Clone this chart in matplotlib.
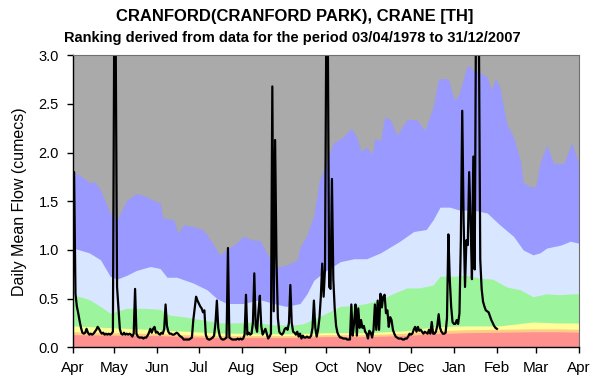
import numpy as np
import matplotlib
matplotlib.use('Agg')
import matplotlib.pyplot as plt

plt.rcParams['font.family'] = ['Liberation Sans', 'DejaVu Sans']

# month ticks (day of year counted from 1 April)
month_days = [0, 30, 61, 91, 122, 153, 183, 214, 244, 275, 306, 334, 365]
month_names = ['Apr', 'May', 'Jun', 'Jul', 'Aug', 'Sep', 'Oct', 'Nov', 'Dec',
               'Jan', 'Feb', 'Mar', 'Apr']

# ranking bands: upper edge of each band through the year
blue_days = [0, 5, 12, 16, 20, 27, 32, 39, 46, 53, 61, 63, 65, 73, 76, 80, 87, 94,
             101, 106, 111, 118, 123, 130, 135, 140, 145, 150, 157, 162, 164, 169,
             174, 178, 182, 188, 195, 201, 205, 208, 212, 216, 218, 222, 225, 229,
             234, 241, 248, 254, 260, 264, 271, 275, 279, 283, 285, 289, 294, 299,
             302, 305, 308, 313, 318, 323, 325, 330, 334, 337, 342, 347, 354, 360, 365]
blue_top = [1.80, 1.77, 1.69, 1.70, 1.62, 1.38, 1.31, 1.51, 1.58, 1.55, 1.49, 1.49,
            1.33, 1.31, 1.17, 1.26, 1.24, 1.21, 1.07, 0.95, 1.00, 1.07, 1.14, 1.10,
            1.10, 0.97, 0.83, 0.83, 0.86, 0.90, 1.03, 1.15, 1.36, 1.72, 1.86, 2.10,
            2.16, 2.25, 2.16, 2.01, 2.06, 1.98, 2.15, 2.12, 2.37, 2.34, 2.18, 2.34,
            2.34, 2.23, 2.47, 2.76, 2.76, 2.54, 2.61, 2.82, 2.90, 2.85, 2.82, 2.78,
            2.64, 2.76, 2.68, 2.30, 2.16, 1.92, 1.69, 1.65, 1.65, 1.89, 2.08, 1.89,
            1.89, 2.10, 1.89]

lblue_days = [0, 5, 12, 20, 27, 32, 39, 46, 56, 63, 68, 75, 87, 97, 104, 111, 123,
              135, 145, 154, 164, 169, 174, 183, 193, 203, 212, 222, 229, 236, 246,
              255, 260, 265, 272, 279, 289, 299, 308, 318, 325, 332, 337, 342, 352,
              359, 365]
lblue_top = [1.02, 1.00, 0.97, 0.90, 0.73, 0.70, 0.74, 0.79, 0.83, 0.81, 0.72, 0.72,
             0.66, 0.59, 0.50, 0.45, 0.45, 0.49, 0.45, 0.42, 0.45, 0.55, 0.69, 0.79,
             0.88, 0.91, 0.91, 0.97, 1.03, 1.09, 1.19, 1.21, 1.31, 1.44, 1.44, 1.41,
             1.41, 1.38, 1.26, 1.14, 1.00, 0.95, 0.97, 1.02, 1.05, 1.09, 1.07]

green_days = [0, 5, 12, 20, 27, 39, 53, 63, 70, 82, 94, 106, 118, 130, 145, 159, 166,
              174, 183, 193, 203, 212, 222, 231, 241, 250, 260, 265, 275, 284, 294,
              303, 313, 323, 332, 342, 351, 361, 365]
green_top = [0.53, 0.52, 0.49, 0.42, 0.35, 0.40, 0.40, 0.39, 0.33, 0.31, 0.28, 0.25,
             0.25, 0.26, 0.23, 0.23, 0.24, 0.29, 0.35, 0.42, 0.43, 0.45, 0.49, 0.55,
             0.61, 0.61, 0.64, 0.73, 0.73, 0.74, 0.71, 0.70, 0.62, 0.59, 0.52, 0.55,
             0.54, 0.55, 0.55]

low_days = [0, 30, 63, 100, 135, 160, 183, 212, 240, 260, 283, 308, 332, 350, 365]
yellow_top = [0.22, 0.20, 0.18, 0.15, 0.14, 0.14, 0.15, 0.15, 0.17, 0.21, 0.22,
              0.22, 0.26, 0.25, 0.25]
orange_top = [0.16, 0.15, 0.14, 0.12, 0.12, 0.12, 0.13, 0.13, 0.145, 0.17, 0.18,
              0.185, 0.19, 0.19, 0.185]
red_top = [0.13, 0.125, 0.12, 0.10, 0.10, 0.10, 0.11, 0.11, 0.12, 0.14, 0.15,
           0.155, 0.16, 0.16, 0.155]

# daily mean flow from 1 April to 1 February
flow = [
    # Apr
    0.52, 1.80, 0.55, 0.42, 0.35, 0.27, 0.20, 0.15, 0.14, 0.15, 0.19, 0.15, 0.13, 0.14, 0.13,
    0.14, 0.16, 0.18, 0.21, 0.19, 0.16, 0.14, 0.15, 0.13, 0.14, 0.13, 0.14, 0.13, 0.14, 0.16,
    # May
    3.40, 3.20, 0.62, 0.41, 0.19, 0.14, 0.13, 0.15, 0.13, 0.14, 0.13, 0.14, 0.13, 0.11, 0.14,
    0.60, 0.14, 0.11, 0.10, 0.10, 0.10, 0.09, 0.10, 0.10, 0.12, 0.15, 0.19, 0.15, 0.19, 0.21, 0.15,
    # Jun
    0.16, 0.14, 0.13, 0.15, 0.14, 0.19, 0.44, 0.22, 0.16, 0.14, 0.14, 0.13, 0.13, 0.14, 0.15,
    0.14, 0.12, 0.11, 0.10, 0.08, 0.08, 0.08, 0.08, 0.08, 0.09, 0.10, 0.28, 0.40, 0.52, 0.48,
    # Jul
    0.45, 0.42, 0.40, 0.36, 0.38, 0.13, 0.09, 0.08, 0.08, 0.09, 0.10, 0.12, 0.25, 0.48, 0.20,
    0.12, 0.09, 0.08, 0.08, 0.09, 0.10, 1.02, 0.10, 0.09, 0.08, 0.08, 0.08, 0.08, 0.09, 0.08, 0.09,
    # Aug
    0.08, 0.09, 0.13, 0.54, 0.13, 0.15, 0.13, 0.14, 0.25, 0.76, 0.22, 0.16, 0.37, 0.53, 0.22,
    0.13, 0.16, 0.19, 0.14, 0.09, 0.11, 0.14, 2.68, 0.37, 2.13, 0.90, 0.30, 0.16, 0.14, 0.13, 0.15,
    # Sep
    0.19, 0.20, 0.18, 0.25, 0.64, 0.25, 0.16, 0.15, 0.13, 0.16, 0.11, 0.14, 0.09, 0.12, 0.10,
    0.10, 0.11, 0.10, 0.10, 0.12, 0.20, 0.48, 0.20, 0.11, 0.18, 0.30, 0.52, 0.86, 0.52, 0.80,
    # Oct
    3.50, 3.30, 0.62, 0.60, 1.73, 0.70, 0.40, 0.22, 0.15, 0.12, 0.10, 0.10, 0.09, 0.09, 0.09,
    0.08, 0.08, 0.08, 0.44, 0.12, 0.25, 0.44, 0.12, 0.40, 0.20, 0.28, 0.20, 0.22, 0.16, 0.14, 0.09,
    # Nov
    0.17, 0.15, 0.10, 0.18, 0.44, 0.18, 0.48, 0.18, 0.55, 0.41, 0.52, 0.54, 0.35, 0.38, 0.21,
    0.31, 0.28, 0.18, 0.14, 0.11, 0.10, 0.09, 0.09, 0.09, 0.08, 0.08, 0.09, 0.09, 0.11, 0.14,
    # Dec
    0.13, 0.14, 0.18, 0.21, 0.16, 0.21, 0.17, 0.18, 0.16, 0.14, 0.16, 0.15, 0.14, 0.18, 0.14,
    0.26, 0.14, 0.14, 0.16, 0.22, 0.34, 0.20, 0.16, 0.14, 0.14, 0.15, 0.30, 1.16, 0.70, 0.42, 0.26,
    # Jan
    0.24, 0.24, 0.28, 0.24, 0.35, 1.10, 2.43, 1.30, 0.62, 1.10, 1.05, 1.80, 1.30, 0.70, 1.96,
    0.80, 3.60, 4.00, 3.30, 0.90, 0.60, 0.47, 0.42, 0.38, 0.37, 0.36, 0.32, 0.28, 0.25, 0.22, 0.20,
    # Feb
    0.19,
]

fig = plt.figure(figsize=(5.92, 3.83), dpi=100)
ax = fig.add_axes([0.1228, 0.0932, 0.8547, 0.7624])

# gray background is the top band, then stack the others over it
ax.set_facecolor('#aaaaaa')
ax.fill_between(blue_days, blue_top, 0, color='#9999ff', lw=0)
ax.fill_between(lblue_days, lblue_top, 0, color='#d9e6ff', lw=0)
ax.fill_between(green_days, green_top, 0, color='#9cf59c', lw=0)
ax.fill_between(low_days, yellow_top, 0, color='#ffff99', lw=0)
ax.fill_between(low_days, orange_top, 0, color='#ffcc88', lw=0)
ax.fill_between(low_days, red_top, 0, color='#ff9090', lw=0)

days = np.arange(len(flow))
ax.plot(days, flow, color='black', lw=1.6)

ax.set_xlim(0, 365)
ax.set_ylim(0, 3.0)
ax.set_xticks(month_days)
ax.set_xticklabels(month_names, fontsize=11)
ax.set_yticks(np.arange(0, 3.01, 0.5))
ax.set_yticklabels(['%.1f' % v for v in np.arange(0, 3.01, 0.5)], fontsize=10.5)
ax.tick_params(direction='out', length=4, width=1, pad=6)
ax.set_ylabel('Daily Mean Flow (cumecs)', fontsize=11.5, labelpad=8)

for s in ['left', 'bottom']:
    ax.spines[s].set_color('black')
    ax.spines[s].set_linewidth(1)
for s in ['top', 'right']:
    ax.spines[s].set_color('#707070')
    ax.spines[s].set_linewidth(0.8)

fig.text(0.497, 1 - 17 / 383, 'CRANFORD(CRANFORD PARK), CRANE [TH]',
         ha='center', va='center', fontsize=12, fontweight='bold')
fig.text(0.494, 1 - 38 / 383, 'Ranking derived from data for the period 03/04/1978 to 31/12/2007',
         ha='center', va='center', fontsize=10.5, fontweight='bold')

fig.savefig('out.png', dpi=100)
